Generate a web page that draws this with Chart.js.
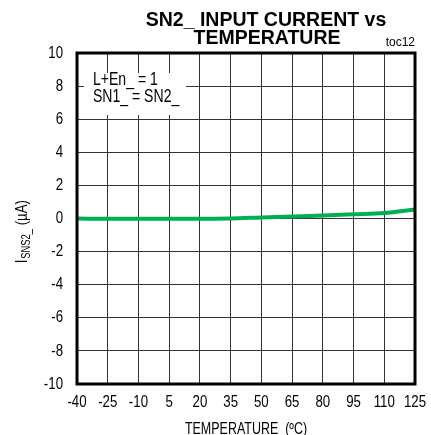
<!DOCTYPE html>
<html>
<head>
<meta charset="utf-8">
<script src="https://cdn.jsdelivr.net/npm/chart.js@4"></script>
<style>
  html, body { margin: 0; padding: 0; background: #fff; }
  #wrap { width: 431px; height: 435px; }
</style>
</head>
<body>
<div id="wrap"><canvas id="chart" width="431" height="435"></canvas></div>
<script>
// data
const temps = [-40, -25, -10, 5, 20, 35, 50, 65, 80, 95, 110, 125];
const current = [0.0, -0.02, -0.02, -0.02, -0.02, 0.0, 0.06, 0.12, 0.18, 0.25, 0.33, 0.55];
const xTicks = [-40, -25, -10, 5, 20, 35, 50, 65, 80, 95, 110, 125];
const yTicks = [-10, -8, -6, -4, -2, 0, 2, 4, 6, 8, 10];
const titleLines = ["SN2_ INPUT CURRENT vs", "TEMPERATURE"];
const noteLines = ["L+En_ = 1", "SN1_ = SN2_"];
const xTitle = "TEMPERATURE  (ºC)";

const FONT = '"Liberation Sans", Arial, sans-serif';
const SQUEEZE = 0.78; // the reference text is horizontally condensed

// draw text squeezed horizontally
function narrow(ctx, text, x, y, size, align, base) {
  ctx.save();
  ctx.font = size + "px " + FONT;
  ctx.textAlign = align;
  ctx.textBaseline = base || "middle";
  ctx.translate(x, y);
  ctx.scale(SQUEEZE, 1);
  ctx.fillText(text, 0, 0);
  ctx.restore();
}

// white box with the test conditions, drawn over the grid
const notePlugin = {
  id: "note",
  beforeDatasetsDraw(chart) {
    const ctx = chart.ctx;
    const a = chart.chartArea;
    ctx.save();
    ctx.fillStyle = "#fff";
    ctx.fillRect(a.left + 7, a.top + 20, 102, 42);
    ctx.fillStyle = "#000";
    narrow(ctx, noteLines[0], a.left + 16, a.top + 27, 18, "left");
    narrow(ctx, noteLines[1], a.left + 16, a.top + 44, 18, "left");
    ctx.restore();
  }
};

// frame, titles, tick labels
const framePlugin = {
  id: "frame",
  afterDraw(chart) {
    const ctx = chart.ctx;
    const a = chart.chartArea;
    const xs = chart.scales.x, ys = chart.scales.y;
    ctx.save();
    ctx.strokeStyle = "#000";
    ctx.lineWidth = 3;
    ctx.strokeRect(a.left, a.top, a.right - a.left, a.bottom - a.top);

    ctx.fillStyle = "#000";
    const cx = (a.left + a.right) / 2;
    ctx.textAlign = "center";
    ctx.textBaseline = "alphabetic";
    ctx.font = "bold 19.5px " + FONT;
    ctx.fillText(titleLines[0], 266, 26);
    ctx.fillText(titleLines[1], 267, 44);

    ctx.font = "12px " + FONT;
    ctx.textAlign = "right";
    ctx.fillText("toc12", a.right, 46);

    // tick labels
    xs.ticks.forEach(t => narrow(ctx, String(t.value), xs.getPixelForValue(t.value), a.bottom + 18, 17, "center"));
    ys.ticks.forEach(t => narrow(ctx, String(t.value), a.left - 14, ys.getPixelForValue(t.value), 17, "right"));

    narrow(ctx, xTitle, cx, a.bottom + 46, 16, "center");

    // rotated y title: I + subscript SNS2_ + (µA)
    ctx.translate(22, 232);
    ctx.rotate(-Math.PI / 2);
    ctx.scale(SQUEEZE, 1);
    ctx.textAlign = "left";
    ctx.textBaseline = "middle";
    const big = "17px " + FONT, small = "12px " + FONT;
    ctx.font = big; const w1 = ctx.measureText("I").width;
    ctx.font = small; const w2 = ctx.measureText("SNS2_").width;
    ctx.font = big; const w3 = ctx.measureText(" (µA)").width;
    let x = -(w1 + w2 + w3) / 2;
    ctx.font = big; ctx.fillText("I", x, 0); x += w1 + 1;
    ctx.font = small; ctx.fillText("SNS2_", x, 5); x += w2;
    ctx.font = big; ctx.fillText(" (µA)", x, 0);
    ctx.restore();
  }
};

new Chart(document.getElementById("chart"), {
  type: "line",
  data: {
    datasets: [{
      data: temps.map((t, i) => ({ x: t, y: current[i] })),
      borderColor: "#00b050",
      borderWidth: 4,
      pointRadius: 0,
      cubicInterpolationMode: "monotone"
    }]
  },
  options: {
    responsive: false,
    animation: false,
    layout: { padding: { top: 53, right: 16, left: 0, bottom: 0 } },
    plugins: { legend: { display: false }, tooltip: { enabled: false } },
    scales: {
      x: {
        type: "linear",
        min: -40, max: 125,
        afterBuildTicks: s => { s.ticks = xTicks.map(v => ({ value: v })); },
        afterFit: s => { s.height = 51; },
        grid: { color: "#333", lineWidth: 1, drawTicks: false },
        border: { display: false },
        ticks: { display: false }
      },
      y: {
        min: -10, max: 10,
        afterBuildTicks: s => { s.ticks = yTicks.map(v => ({ value: v })); },
        afterFit: s => { s.width = 77; },
        grid: { color: "#333", lineWidth: 1, drawTicks: false },
        border: { display: false },
        ticks: { display: false }
      }
    }
  },
  plugins: [notePlugin, framePlugin]
});
</script>
</body>
</html>
